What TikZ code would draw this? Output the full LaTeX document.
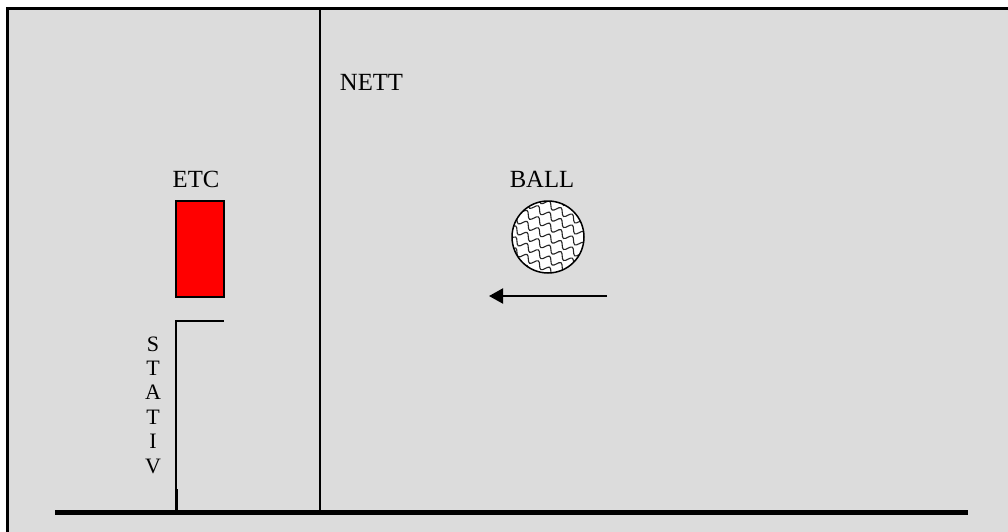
\documentclass[tikz,border=0pt]{standalone}
\usepackage{fontspec}
\setmainfont{Liberation Serif}
\usetikzlibrary{decorations.pathmorphing,arrows.meta,calc}
\definecolor{bggray}{RGB}{220,220,220}
\definecolor{etcred}{RGB}{255,0,0}
\begin{document}
\begin{tikzpicture}[x=1pt,y=-1pt,
  lbl/.style={font=\fontsize{24.7}{29}\selectfont, inner sep=0pt, anchor=base},
  stativlbl/.style={font=\fontsize{22}{24.4}\selectfont, inner sep=0pt, align=center},
  thinline/.style={line width=1.5},
  hatchline/.style={decorate, decoration={snake, amplitude=3.2pt, segment length=13pt}, line width=1.1, black!85}]
\useasboundingbox (0,0) rectangle (1008,531);
\clip (0,0) rectangle (1008,531);
\fill[white] (0,0) rectangle (1008,531);
\draw[line width=2.5, fill=bggray] (7.5,8.5) rectangle (1025,545);
% net
\coordinate (nettop) at (320,8.5);
\coordinate (netbot) at (320,512);
\draw[line width=2] (nettop) -- (netbot);
% ground
\coordinate (gl) at (55,512.5);
\coordinate (gr) at (968,512.5);
\draw[line width=5] (gl) -- (gr);
% labels
\node[lbl] (nett) at (371.5,90) {NETT};
\node[lbl] (etc) at (196,187) {ETC};
\node[lbl] (balllbl) at (542,187) {BALL};
\node[stativlbl] (stativ) at (153,405) {S\\T\\A\\T\\I\\V};
% ETC box
\node[draw, thinline, fill=etcred, minimum width=48, minimum height=96, inner sep=0] (etcbox) at (200,249) {};
% stand
\coordinate (stbase) at (176,512);
\coordinate (stlow) at (176,489);
\coordinate (sttop) at (176,321);
\coordinate (starm) at (224,321);
\draw[thinline] (stbase) -- (sttop) -- (starm);
\draw[line width=3] (stlow) -- (stbase);
% ball
\node[circle, draw, thinline, fill=white, minimum size=72, inner sep=0,
  path picture={
    \foreach \k in {-88,-77,...,88}{
      \draw[hatchline] ($(path picture bounding box.center)+(-60,\k-34)$) -- ++(120,68);
    }
  }] (ball) at (548,237) {};
% arrow
\coordinate (arrs) at (607,296);
\coordinate (arre) at (489,296);
\draw[line width=2, -{Triangle[length=14,width=15]}] (arrs) -- (arre);
\end{tikzpicture}
\end{document}
